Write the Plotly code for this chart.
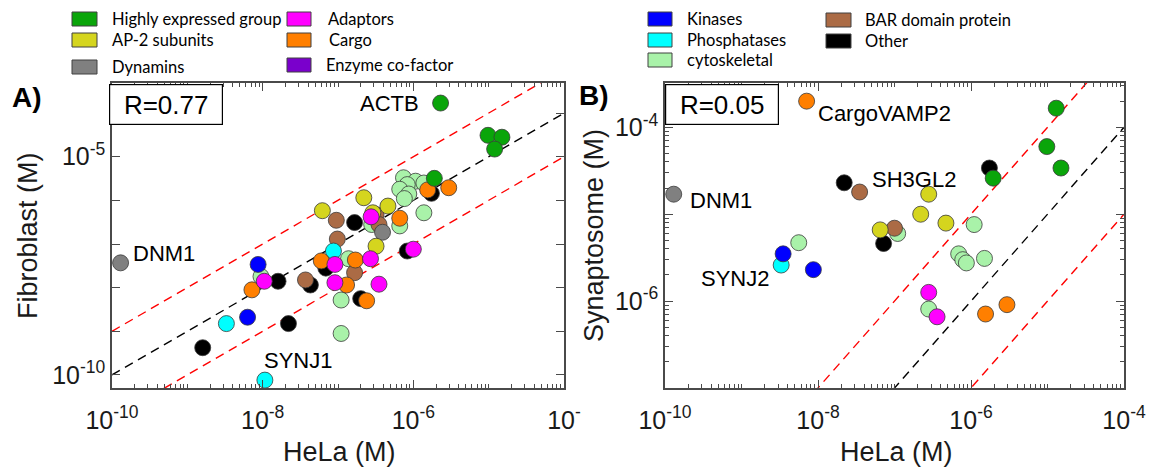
import math
import plotly.graph_objects as go

W, H = 1160, 470
OX, OY = 8, 8  # page body margin compensation

# ---------------- categories ----------------
group_keys = ["hi", "ap2", "dyn", "adp", "cargo", "enz", "kin", "phos", "cyto", "bar", "other"]
group_names = ["Highly expressed group", "AP-2 subunits", "Dynamins", "Adaptors", "Cargo",
               "Enzyme co-factor", "Kinases", "Phosphatases", "cytoskeletal",
               "BAR domain protein", "Other"]
group_colors = ["#0AA50A", "#D5D51E", "#808080", "#FF00FF", "#FF7F00", "#7A00CC",
                "#0000FF", "#00FFFF", "#A9F2A9", "#AB6B45", "#000000"]
draw_order = ["cyto", "other", "bar", "dyn", "ap2", "phos", "kin", "cargo", "adp", "hi"]

# ---------------- panel A: HeLa vs Fibroblast (M) ----------------
a_hela = [2.3e-6, 9.8e-6, 1.5e-5, 1.2e-5, 1.9e-6,
          7.4e-7, 1.07e-6, 8.3e-7, 1.38e-6, 6.6e-7, 8.7e-7, 7.6e-7, 1.38e-6, 6.6e-7, 2.8e-7,
          1.55e-6, 2.95e-6, 1.74e-6,
          2.2e-7, 6.2e-8, 4.6e-7, 3.2e-7, 2.9e-7,
          9.5e-8, 3.2e-7, 3.5e-7, 9.8e-8,
          1.66e-7, 2.75e-7, 6.6e-7, 3.9e-7, 8.3e-7, 1.0e-6, 8.7e-8, 8.7e-9, 1.3e-10,
          6.0e-8, 9.1e-8, 1.38e-7, 1.7e-7, 2.7e-7, 6.9e-8, 1.66e-7,
          9.5e-9, 1.05e-8, 7.2e-9, 1.6e-8, 3.7e-8, 4.3e-8, 9.1e-8, 1.3e-7,
          1.1e-7, 2.0e-7, 2.4e-7, 3.5e-7, 6.3e-9, 3.3e-9, 2.2e-8, 1.1e-7, 1.6e-9, 1.07e-8]
a_fibro = [1.7e-4, 3.1e-5, 2.8e-5, 1.5e-5, 3.2e-6,
           3.3e-6, 2.75e-6, 2.3e-6, 2.5e-6, 1.8e-6, 1.4e-6, 1.1e-6, 5.2e-7, 2.6e-7, 2.8e-7,
           1.74e-6, 1.95e-6, 1.45e-6,
           1.15e-6, 5.8e-7, 7.4e-7, 8.9e-8, 5.2e-7,
           3.5e-7, 4.7e-7, 2.8e-7, 1.3e-7,
           3.1e-7, 4.2e-7, 3.9e-7, 1.86e-7, 6.9e-8, 7.6e-8, 6.9e-8, 3.4e-8, 3.7e-8,
           4.1e-8, 3.4e-8, 4.6e-8, 4.3e-8, 4.6e-8, 2.8e-8, 2.2e-8,
           1.8e-8, 1.4e-8, 8.9e-9, 1.4e-8, 1.5e-8, 1.15e-8, 1.3e-8, 1.15e-8,
           5.2e-9, 5.6e-9, 5.0e-9, 1.2e-8, 2.1e-9, 1.5e-9, 1.5e-9, 8.9e-10, 4.2e-10, 7.6e-11]
a_group = ["hi", "hi", "hi", "hi", "hi",
           "cyto", "cyto", "cyto", "cyto", "cyto", "cyto", "cyto", "cyto", "cyto", "cyto",
           "cargo", "cargo", "other",
           "ap2", "ap2", "ap2", "ap2", "ap2",
           "bar", "bar", "bar", "bar",
           "other", "adp", "cargo", "dyn", "other", "adp", "phos", "kin", "dyn",
           "cargo", "adp", "cyto", "cargo", "adp", "other", "bar",
           "cyto", "adp", "cargo", "other", "bar", "other", "adp", "cargo",
           "cyto", "other", "cargo", "adp", "kin", "phos", "other", "cyto", "other", "phos"]
a_r = "R=0.77"
a_label_text = ["ACTB", "DNM1", "SYNJ1"]
a_label_idx = [0, 35, 60]

# ---------------- panel B: HeLa vs Synaptosome (M) ----------------
b_hela = [7.1e-9, 1.3e-5, 9.8e-6, 1.5e-5, 1.74e-6, 1.95e-6, 2.2e-8, 3.5e-8, 1.3e-10,
          2.8e-7, 2.2e-7, 4.7e-7, 1.1e-6, 6.5e-8, 1.0e-7, 1.1e-7, 7.2e-8, 5.6e-9,
          3.5e-9, 3.3e-9, 8.7e-9, 6.9e-7, 7.8e-7, 8.7e-7, 1.5e-6,
          2.8e-7, 2.8e-7, 3.6e-7, 1.55e-6, 2.95e-6]
b_syn = [2.0e-4, 1.66e-4, 6.0e-5, 3.4e-5, 3.4e-5, 2.6e-5, 2.3e-5, 1.8e-5, 1.7e-5,
         1.7e-5, 1.0e-5, 7.9e-6, 7.6e-6, 6.6e-6, 6.9e-6, 6.0e-6, 4.6e-6, 4.7e-6,
         3.5e-6, 2.6e-6, 2.3e-6, 3.5e-6, 3.0e-6, 2.75e-6, 3.1e-6,
         1.26e-6, 8.1e-7, 6.6e-7, 7.1e-7, 9.1e-7]
b_group = ["cargo", "hi", "hi", "hi", "other", "hi", "other", "bar", "dyn",
           "ap2", "ap2", "ap2", "cyto", "ap2", "bar", "cyto", "other", "cyto",
           "kin", "phos", "kin", "cyto", "cyto", "cyto", "cyto",
           "adp", "cyto", "adp", "cargo", "cargo"]
b_r = "R=0.05"
b_label_text = ["CargoVAMP2", "SH3GL2", "DNM1", "SYNJ2"]
b_label_idx = [0, 7, 8, 19]

# reference lines y = ratio * x
ref_x = [1e-10, 1e-4]
ref_ratio = [1, 10, 0.1]
ref_color = ["black", "red", "red"]

# tick labels
x_tickvals = [1e-10, 1e-8, 1e-6, 1e-4]
a_x_ticktext = ["10<sup>-10</sup>", "10<sup>-8</sup>", "10<sup>-6</sup>", "10<sup>-</sup>"]
b_x_ticktext = ["10<sup>-10</sup>", "10<sup>-8</sup>", "10<sup>-6</sup>", "10<sup>-4</sup>"]
a_y_tickvals = [1e-10, 1e-9, 1e-8, 1e-7, 1e-6, 1e-5, 1e-4]
a_y_ticktext = ["10<sup>-10</sup>", "", "", "", "", "10<sup>-5</sup>", ""]
b_y_tickvals = [1e-7, 1e-6, 1e-5, 1e-4]
b_y_ticktext = ["", "10<sup>-6</sup>", "", "10<sup>-4</sup>"]

FONT = "Liberation Sans, Arial, Helvetica, sans-serif"
AXC = "#4a4a4a"


def minor_vals(lo, hi, skip):
    out = []
    for e in range(lo, hi):
        for k in range(1, 10):
            v = k * 10.0 ** e
            if not any(abs(v - s) / s < 1e-6 for s in skip):
                out.append(v)
    return out


def px(x):
    return (x - OX) / W


def py(y):
    return 1 - (y - OY) / H


fig = go.Figure()

panels = [
    (a_hela, a_fibro, a_group, "x", "y"),
    (b_hela, b_syn, b_group, "x2", "y2"),
]
for hx, vy, grp, xa, ya in panels:
    for rr, cc in zip(ref_ratio, ref_color):
        fig.add_trace(go.Scatter(
            x=ref_x, y=[rr * v for v in ref_x], mode="lines",
            line=dict(color=cc, width=1.4, dash="9px,6px"),
            xaxis=xa, yaxis=ya, showlegend=False, hoverinfo="skip"))
    for key in draw_order:
        gi = group_keys.index(key)
        xs = [hx[i] for i in range(len(hx)) if grp[i] == key]
        ys = [vy[i] for i in range(len(vy)) if grp[i] == key]
        if not xs:
            continue
        fig.add_trace(go.Scatter(
            x=xs, y=ys, mode="markers", name=group_names[gi],
            marker=dict(size=16, color=group_colors[gi],
                        line=dict(color="#3a3a3a", width=0.8)),
            xaxis=xa, yaxis=ya, showlegend=False, cliponaxis=False))


def axis_common():
    return dict(type="log", showline=True, linecolor=AXC, linewidth=1.5,
                mirror="ticks", ticks="inside", ticklen=8, tickwidth=1.2,
                tickcolor=AXC, showgrid=False, zeroline=False, automargin=False,
                tickfont=dict(family=FONT, size=25, color="#1a1a1a"))


xa = axis_common()
xa.update(range=[-10, -4], domain=[px(112), px(564)], anchor="y",
          tickmode="array", tickvals=x_tickvals, ticktext=a_x_ticktext,
          ticklabelstandoff=9,
          minor=dict(ticks="inside", ticklen=4, tickwidth=1, tickcolor=AXC,
                     tickmode="array", tickvals=minor_vals(-10, -4, x_tickvals)))
ya = axis_common()
ya.update(range=[-10.30, -3.31], domain=[py(388), py(83)], anchor="x",
          tickmode="array", tickvals=a_y_tickvals, ticktext=a_y_ticktext)
xb = axis_common()
xb.update(range=[-10, -4], domain=[px(665), px(1124)], anchor="y2",
          tickmode="array", tickvals=x_tickvals, ticktext=b_x_ticktext,
          ticklabelstandoff=9,
          minor=dict(ticks="inside", ticklen=4, tickwidth=1, tickcolor=AXC,
                     tickmode="array", tickvals=minor_vals(-10, -4, x_tickvals)))
yb = axis_common()
yb.update(range=[-7, -3.49], domain=[py(388), py(83)], anchor="x2",
          tickmode="array", tickvals=b_y_tickvals, ticktext=b_y_ticktext,
          minor=dict(ticks="inside", ticklen=4, tickwidth=1, tickcolor=AXC,
                     tickmode="array", tickvals=minor_vals(-7, -3, b_y_tickvals)))

annotations = []
shapes = []

# point labels
lab_font = dict(family=FONT, size=22, color="black")
a_shift = {"ACTB": ("right", -20, 0), "DNM1": ("left", 10, 9), "SYNJ1": ("left", -3, 20)}
for t, i in zip(a_label_text, a_label_idx):
    anc, xs, ys = a_shift[t]
    annotations.append(dict(x=math.log10(a_hela[i]), y=math.log10(a_fibro[i]), xref="x", yref="y",
                            text=t, showarrow=False, xanchor=anc, yanchor="middle",
                            xshift=xs, yshift=ys, font=lab_font))
b_shift = {"CargoVAMP2": ("left", 9, -12), "SH3GL2": ("left", 10, 13),
           "DNM1": ("left", 14, -6), "SYNJ2": ("right", -10, -13)}
for t, i in zip(b_label_text, b_label_idx):
    anc, xs, ys = b_shift[t]
    annotations.append(dict(x=math.log10(b_hela[i]), y=math.log10(b_syn[i]), xref="x2", yref="y2",
                            text=t, showarrow=False, xanchor=anc, yanchor="middle",
                            xshift=xs, yshift=ys, font=lab_font))

# R boxes
for txt, x0 in [(a_r, 109), (b_r, 665)]:
    annotations.append(dict(x=px(x0), y=py(84), xref="paper", yref="paper", text=txt,
                            showarrow=False, xanchor="left", yanchor="top",
                            width=110, height=37, borderpad=1, borderwidth=1.2,
                            bordercolor="black", bgcolor="white", align="center",
                            font=dict(family=FONT, size=26, color="black")))

# panel letters
for txt, cx, cy in [("A)", 27, 98), ("B)", 594, 95)]:
    annotations.append(dict(x=px(cx), y=py(cy), xref="paper", yref="paper",
                            text="<b>" + txt + "</b>", showarrow=False,
                            xanchor="center", yanchor="middle",
                            font=dict(family=FONT, size=28, color="black")))

# axis titles
title_font = dict(family=FONT, size=27, color="#1a1a1a")
for txt, cx, cy, ang in [("HeLa (M)", 339, 452, 0), ("HeLa (M)", 896, 452, 0),
                         ("Fibroblast (M)", 28, 236, -90), ("Synaptosome (M)", 594, 236, -90)]:
    annotations.append(dict(x=px(cx), y=py(cy), xref="paper", yref="paper", text=txt,
                            showarrow=False, xanchor="center", yanchor="middle",
                            textangle=ang, font=title_font))

# legends (colored boxes + labels)
legend_layout = [
    # key, rect x0, rect x1, text x, y center
    ("hi", 72, 97, 110, 19), ("ap2", 72, 97, 110, 40), ("dyn", 72, 97, 110, 67),
    ("adp", 287, 311, 326, 19), ("cargo", 287, 311, 327, 40), ("enz", 287, 311, 324, 65),
    ("kin", 648, 672, 685, 19), ("phos", 648, 672, 685, 40), ("cyto", 648, 672, 685, 60),
    ("bar", 826, 851, 863, 20), ("other", 826, 851, 863, 41),
]
for key, x0, x1, tx, cy in legend_layout:
    gi = group_keys.index(key)
    shapes.append(dict(type="rect", xref="paper", yref="paper",
                       x0=px(x0), x1=px(x1), y0=py(cy + 7), y1=py(cy - 7),
                       fillcolor=group_colors[gi], line=dict(color="#404040", width=1)))
    annotations.append(dict(x=px(tx), y=py(cy), xref="paper", yref="paper",
                            text=group_names[gi], showarrow=False,
                            xanchor="left", yanchor="middle",
                            font=dict(family="Lato, Open Sans, sans-serif", size=16.5, color="black")))

fig.update_layout(
    width=W, height=H, margin=dict(l=0, r=0, t=0, b=0, autoexpand=False),
    paper_bgcolor="white", plot_bgcolor="white",
    xaxis=xa, yaxis=ya, xaxis2=xb, yaxis2=yb,
    annotations=annotations, shapes=shapes, showlegend=False,
)

fig.write_html("out.html")
